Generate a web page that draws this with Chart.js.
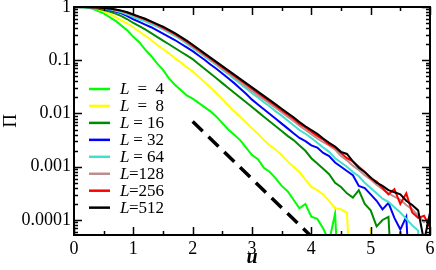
<!DOCTYPE html>
<html>
<head>
<meta charset="utf-8">
<script src="https://cdn.jsdelivr.net/npm/chart.js@4.4.1/dist/chart.umd.min.js"></script>
<style>
  html, body { margin: 0; padding: 0; background: #fff; }
</style>
</head>
<body>
<canvas id="myChart" width="436" height="270"></canvas>
<script>
// u grid shared by every curve
const u = [
  0.1, 0.2, 0.3, 0.4, 0.5, 0.6, 0.7, 0.8, 0.9, 1.0,
  1.1, 1.2, 1.3, 1.4, 1.5, 1.6, 1.7, 1.8, 1.9, 2.0,
  2.1, 2.2, 2.3, 2.4, 2.5, 2.6, 2.7, 2.8, 2.9, 3.0,
  3.1, 3.2, 3.3, 3.4, 3.5, 3.6, 3.7, 3.8, 3.9, 4.0,
  4.1, 4.2, 4.3, 4.4, 4.5, 4.6, 4.7, 4.8, 4.9, 5.0,
  5.1, 5.2, 5.3, 5.4, 5.5, 5.6, 5.7, 5.8, 5.9, 6.0
];

// log10(Pi), one list per L (-6 = fell to zero, below the axis)
const logPi4 = [
  0, -0.01, -0.03, -0.07, -0.12, -0.19, -0.26, -0.35, -0.44, -0.56,
  -0.66, -0.80, -0.92, -1.06, -1.18, -1.34, -1.46, -1.56, -1.66, -1.72,
  -1.80, -1.88, -1.96, -2.06, -2.18, -2.30, -2.40, -2.50, -2.64, -2.78,
  -2.86, -3.02, -3.10, -3.22, -3.36, -3.46, -3.62, -3.78, -3.70, -3.94,
  -3.98, -4.16, -4.40, -3.88, -6
];
const logPi8 = [
  0, -0.005, -0.015, -0.04, -0.08, -0.13, -0.19, -0.25, -0.31, -0.38,
  -0.46, -0.54, -0.62, -0.71, -0.79, -0.87, -0.96, -1.04, -1.13, -1.21,
  -1.31, -1.41, -1.51, -1.62, -1.73, -1.85, -1.96, -2.06, -2.17, -2.28,
  -2.38, -2.50, -2.60, -2.68, -2.78, -2.90, -3.00, -3.10, -3.24, -3.38,
  -3.44, -3.52, -3.64, -3.78, -3.80, -3.86, -6, -6, -6, -4.15,
  -6
];
const logPi16 = [
  0, -0.004, -0.012, -0.03, -0.055, -0.085, -0.125, -0.17, -0.23, -0.30,
  -0.36, -0.42, -0.49, -0.56, -0.63, -0.70, -0.77, -0.84, -0.91, -0.98,
  -1.07, -1.16, -1.25, -1.34, -1.43, -1.52, -1.61, -1.70, -1.79, -1.88,
  -1.97, -2.06, -2.15, -2.24, -2.33, -2.42, -2.50, -2.60, -2.70, -2.84,
  -2.94, -3.04, -3.14, -3.30, -3.38, -3.50, -3.58, -3.44, -3.70, -3.82,
  -4.12, -4.00, -3.94, -6, -4.22, -6
];
const logPi32 = [
  0, -0.003, -0.009, -0.02, -0.035, -0.055, -0.085, -0.12, -0.17, -0.23,
  -0.28, -0.33, -0.38, -0.44, -0.50, -0.56, -0.62, -0.69, -0.76, -0.83,
  -0.91, -0.99, -1.08, -1.16, -1.25, -1.34, -1.43, -1.53, -1.63, -1.74,
  -1.83, -1.92, -2.01, -2.10, -2.19, -2.28, -2.37, -2.46, -2.52, -2.60,
  -2.64, -2.74, -2.80, -2.92, -3.00, -3.08, -3.16, -3.36, -3.40, -3.52,
  -3.64, -3.80, -3.68, -3.96, -4.18, -3.94, -6
];
const logPi64 = [
  0, -0.003, -0.008, -0.016, -0.03, -0.045, -0.07, -0.10, -0.14, -0.19,
  -0.23, -0.27, -0.32, -0.37, -0.42, -0.48, -0.54, -0.61, -0.69, -0.77,
  -0.85, -0.93, -1.01, -1.09, -1.18, -1.26, -1.35, -1.44, -1.53, -1.62,
  -1.70, -1.79, -1.87, -1.96, -2.04, -2.13, -2.22, -2.31, -2.38, -2.46,
  -2.55, -2.64, -2.72, -2.84, -2.92, -3.00, -3.10, -3.18, -3.30, -3.40,
  -3.50, -3.60, -3.66, -3.76, -3.86, -3.98, -4.10, -4.20, -6
];
const logPi128 = [
  0, -0.002, -0.006, -0.012, -0.021, -0.033, -0.052, -0.077, -0.112, -0.155,
  -0.197, -0.24, -0.29, -0.345, -0.40, -0.46, -0.52, -0.59, -0.665, -0.745,
  -0.83, -0.91, -0.99, -1.075, -1.16, -1.24, -1.32, -1.405, -1.49, -1.575,
  -1.655, -1.735, -1.815, -1.895, -1.975, -2.06, -2.14, -2.23, -2.31, -2.39,
  -2.47, -2.54, -2.60, -2.68, -2.80, -2.88, -2.98, -3.06, -3.16, -3.24,
  -3.34, -3.42, -3.50, -3.56, -3.62, -3.72, -3.80, -3.92, -4.04, -3.96
];
const logPi256 = [
  0, -0.002, -0.005, -0.011, -0.020, -0.031, -0.049, -0.073, -0.106, -0.147,
  -0.188, -0.23, -0.28, -0.33, -0.385, -0.445, -0.505, -0.575, -0.645, -0.725,
  -0.805, -0.885, -0.965, -1.045, -1.13, -1.21, -1.29, -1.37, -1.45, -1.535,
  -1.615, -1.695, -1.775, -1.855, -1.94, -2.02, -2.10, -2.19, -2.26, -2.34,
  -2.42, -2.49, -2.58, -2.64, -2.74, -2.84, -2.90, -3.00, -3.10, -3.22,
  -3.28, -3.40, -3.52, -3.42, -3.70, -3.50, -3.86, -3.96, -3.92, -4.14
];
const logPi512 = [
  0, -0.002, -0.005, -0.010, -0.018, -0.028, -0.045, -0.068, -0.10, -0.14,
  -0.18, -0.22, -0.27, -0.32, -0.37, -0.43, -0.49, -0.56, -0.63, -0.71,
  -0.79, -0.87, -0.95, -1.03, -1.11, -1.19, -1.27, -1.35, -1.43, -1.51,
  -1.59, -1.67, -1.75, -1.83, -1.91, -1.99, -2.07, -2.16, -2.24, -2.31,
  -2.38, -2.47, -2.55, -2.62, -2.72, -2.76, -2.90, -3.02, -3.10, -3.20,
  -3.30, -3.36, -3.44, -3.48, -3.52, -3.64, -3.72, -3.82, -4.40, -3.86
];

const sizes = [4, 8, 16, 32, 64, 128, 256, 512];
const series = [logPi4, logPi8, logPi16, logPi32, logPi64, logPi128, logPi256, logPi512];
const colors = ['#00ff00', '#ffff00', '#008b00', '#0000ff', '#40e0d0', '#bc8f8f', '#ff0000', '#000000'];

// dashed guide line
const guideU = [2, 4];
const guidePi = [0.0071, 0.000049];

const xTicks = [0, 1, 2, 3, 4, 5, 6];
const yTicks = [0.0001, 0.001, 0.01, 0.1, 1];
const yTickLabels = ['0.0001', '0.001', '0.01', '0.1', '1'];

const serif = '"Liberation Serif", "DejaVu Serif", serif';

const datasets = series.map((vals, i) => ({
  data: vals.map((v, k) => ({ x: u[k], y: Math.pow(10, v) })),
  borderColor: colors[i],
  borderWidth: 2,
  pointRadius: 0,
  tension: 0,
  clip: 0,
  order: series.length - 1 - i,
}));
datasets.push({
  data: guideU.map((x, k) => ({ x, y: guidePi[k] })),
  borderColor: '#000',
  borderWidth: 3.5,
  borderDash: [14, 8],
  pointRadius: 0,
  clip: 0,
  order: -1,
});

// inward ticks on all four sides + frame
const framePlugin = {
  id: 'frame',
  afterDatasetsDraw(chart) {
    const { ctx, chartArea: a, scales: { x, y } } = chart;
    ctx.save();
    ctx.strokeStyle = '#000';
    ctx.lineWidth = 1.5;
    ctx.beginPath();
    for (let v = 0; v <= 6.001; v += 0.5) {
      const px = Math.round(x.getPixelForValue(v)) + 0.5;
      const len = Number.isInteger(v) ? 8 : 4;
      ctx.moveTo(px, a.bottom); ctx.lineTo(px, a.bottom - len);
      ctx.moveTo(px, a.top); ctx.lineTo(px, a.top + len);
    }
    for (let e = -5; e <= 0; e++) {
      for (let m = 1; m <= 9; m++) {
        const v = m * Math.pow(10, e);
        if (v < y.min || v > y.max) continue;
        const py = Math.round(y.getPixelForValue(v)) + 0.5;
        const len = m === 1 ? 8 : 4;
        ctx.moveTo(a.left, py); ctx.lineTo(a.left + len, py);
        ctx.moveTo(a.right, py); ctx.lineTo(a.right - len, py);
      }
    }
    ctx.stroke();
    ctx.lineWidth = 2;
    ctx.strokeRect(a.left, a.top, a.right - a.left, a.bottom - a.top);
    ctx.restore();
  }
};

const legendPlugin = {
  id: 'graceLegend',
  afterDraw(chart) {
    const ctx = chart.ctx;
    ctx.save();
    ctx.textBaseline = 'middle';
    sizes.forEach((L, i) => {
      const yy = 89 + i * 16.95;
      ctx.strokeStyle = colors[i];
      ctx.lineWidth = 2.5;
      ctx.beginPath();
      ctx.moveTo(89, yy);
      ctx.lineTo(110, yy);
      ctx.stroke();
      ctx.fillStyle = '#000';
      ctx.font = 'italic 17px ' + serif;
      ctx.textAlign = 'left';
      ctx.fillText('L', 120, yy + 1);
      const tail = L >= 100 ? '=' + L : (L >= 10 ? '= ' + L : '=  ' + L);
      ctx.font = '17px ' + serif;
      ctx.textAlign = 'right';
      ctx.fillText(tail, 164, yy + 1);
    });
    ctx.restore();
  }
};

const config = {
  type: 'line',
  data: { datasets },
  options: {
    responsive: false,
    animation: false,
    layout: { padding: { top: 7, right: 6, left: 0, bottom: 0 } },
    plugins: { legend: { display: false }, tooltip: { enabled: false } },
    scales: {
      x: {
        type: 'linear',
        min: 0,
        max: 6,
        grid: { display: false, drawTicks: false },
        border: { display: false },
        afterBuildTicks: (s) => { s.ticks = xTicks.map((v) => ({ value: v })); },
        afterFit: (s) => { s.height = 35; s.paddingLeft = 0; s.paddingRight = 0; },
        ticks: {
          autoSkip: false,
          maxRotation: 0,
          padding: 3,
          color: '#000',
          font: { family: serif, size: 18 },
          callback: (v) => String(v),
        },
        title: {
          display: true,
          text: 'u',
          color: '#000',
          padding: { top: 0, bottom: 0 },
          font: { family: serif, size: 20, style: 'italic', weight: 'bold' },
        },
      },
      y: {
        type: 'logarithmic',
        min: 0.0000522,
        max: 1,
        grid: { display: false, drawTicks: false },
        border: { display: false },
        afterBuildTicks: (s) => { s.ticks = yTicks.map((v) => ({ value: v })); },
        afterFit: (s) => { s.width = 74; s.paddingTop = 0; s.paddingBottom = 0; },
        ticks: {
          autoSkip: false,
          padding: 3,
          color: '#000',
          font: { family: serif, size: 18 },
          callback: (v, i) => yTickLabels[i],
        },
        title: {
          display: true,
          text: 'Π',
          color: '#000',
          padding: { top: 0, bottom: 0 },
          font: { family: serif, size: 19 },
        },
      },
    },
  },
  plugins: [framePlugin, legendPlugin],
};

const myChart = new Chart(document.getElementById('myChart').getContext('2d'), config);
</script>
</body>
</html>
